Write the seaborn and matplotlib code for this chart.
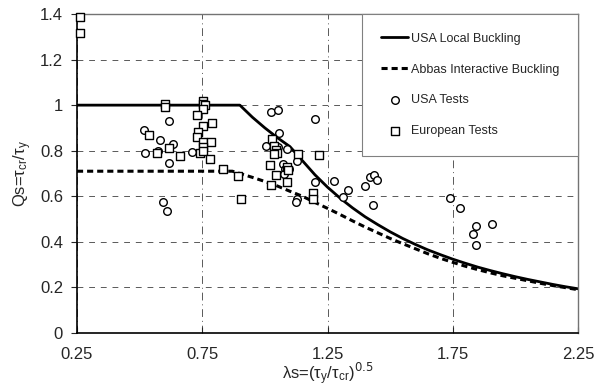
import numpy as np
import pandas as pd
import matplotlib
matplotlib.use("Agg")
import matplotlib.pyplot as plt
import seaborn as sns

# -------- data --------
usa_lam = [0.25, 0.90, 0.95, 1.00, 1.05, 1.10, 1.15, 1.20, 1.25, 1.30, 1.35, 1.40, 1.45,
           1.50, 1.55, 1.60, 1.65, 1.70, 1.75, 1.80, 1.85, 1.90, 1.95, 2.00, 2.05,
           2.10, 2.15, 2.20, 2.25]
usa_q = [1.00, 1.00, 0.947, 0.90, 0.857, 0.818, 0.756, 0.694, 0.64, 0.592, 0.549, 0.51, 0.476,
         0.444, 0.415, 0.389, 0.365, 0.344, 0.324, 0.306, 0.289, 0.274, 0.26, 0.247, 0.235,
         0.224, 0.213, 0.203, 0.194]

abbas_lam = [0.25, 0.87, 0.90, 0.95, 1.00, 1.05, 1.10, 1.15, 1.20, 1.25, 1.30, 1.35, 1.40,
             1.45, 1.50, 1.55, 1.60, 1.65, 1.70, 1.75, 1.80, 1.85, 1.90, 1.95, 2.00,
             2.05, 2.10, 2.15, 2.20, 2.25]
abbas_q = [0.71, 0.71, 0.70, 0.683, 0.665, 0.645, 0.622, 0.60, 0.573, 0.547, 0.52, 0.492, 0.465,
           0.44, 0.415, 0.392, 0.37, 0.348, 0.328, 0.31, 0.293, 0.278, 0.264, 0.251, 0.24,
           0.229, 0.218, 0.208, 0.199, 0.19]

usa_test_lam = [0.517, 0.58, 0.617, 0.632, 0.575, 0.52, 0.617, 0.708, 0.595, 0.608,
                1.023, 1.054, 1.20, 1.058, 1.003, 1.054, 1.09, 1.127, 1.071, 1.08,
                1.097, 1.076, 1.20, 1.276, 1.333, 1.313, 1.13, 1.125, 1.40, 1.42,
                1.436, 1.446, 1.43, 1.739, 1.779, 1.843, 1.832, 1.905, 1.843]
usa_test_q = [0.889, 0.846, 0.93, 0.829, 0.80, 0.788, 0.744, 0.795, 0.573, 0.535,
              0.969, 0.978, 0.939, 0.879, 0.82, 0.817, 0.807, 0.756, 0.741, 0.72,
              0.718, 0.697, 0.664, 0.667, 0.627, 0.595, 0.588, 0.576, 0.645, 0.686,
              0.694, 0.671, 0.561, 0.593, 0.547, 0.469, 0.434, 0.478, 0.386]

euro_test_lam = [0.262, 0.262, 0.601, 0.601, 0.754, 0.754, 0.76, 0.754, 0.728, 0.79,
                 0.754, 0.539, 0.734, 0.728, 0.752, 0.786, 0.616, 0.752, 0.57, 0.661,
                 0.741, 0.752, 0.781, 0.832, 0.894, 0.903,
                 1.027, 1.035, 1.045, 1.05, 1.038, 1.133, 1.217, 1.02, 1.087, 1.094,
                 1.043, 1.09, 1.023, 1.193, 1.193]
euro_test_q = [1.385, 1.315, 1.007, 0.99, 1.02, 1.005, 1.0, 0.985, 0.955, 0.92,
               0.91, 0.868, 0.88, 0.858, 0.84, 0.84, 0.81, 0.817, 0.788, 0.776,
               0.79, 0.80, 0.765, 0.72, 0.69, 0.59,
               0.851, 0.82, 0.805, 0.79, 0.785, 0.785, 0.78, 0.737, 0.73, 0.715,
               0.693, 0.664, 0.648, 0.613, 0.59]

x_ticks = [0.25, 0.75, 1.25, 1.75, 2.25]
x_labels = ["0.25", "0.75", "1.25", "1.75", "2.25"]
y_ticks = [0, 0.2, 0.4, 0.6, 0.8, 1.0, 1.2, 1.4]
y_labels = ["0", "0.2", "0.4", "0.6", "0.8", "1", "1.2", "1.4"]

# -------- style --------
sns.set_style("ticks")
plt.rcParams["font.family"] = ["Liberation Sans", "DejaVu Sans"]
plt.rcParams["mathtext.fontset"] = "dejavusans"

fig = plt.figure(figsize=(6.04, 3.88), dpi=100)
ax = fig.add_axes([0.1275, 0.1418, 0.8295, 0.8221])

sns.lineplot(x=usa_lam, y=usa_q, ax=ax, color="black", linewidth=2.0,
             sort=False, estimator=None, label="USA Local Buckling")
sns.lineplot(x=abbas_lam, y=abbas_q, ax=ax, color="black", linewidth=2.2,
             sort=False, estimator=None, label="Abbas Interactive Buckling")
ax.lines[-1].set_dashes((2.0, 1.3))

sns.scatterplot(x=usa_test_lam, y=usa_test_q, ax=ax, marker="o", s=30,
                facecolor="white", edgecolor="black", linewidth=1.0,
                label="USA Tests", zorder=3)
sns.scatterplot(x=euro_test_lam, y=euro_test_q, ax=ax, marker="s", s=26,
                facecolor="white", edgecolor="black", linewidth=1.0,
                label="European Tests", zorder=3, clip_on=False)

ax.set_xlim(0.25, 2.25)
ax.set_ylim(0, 1.4)
ax.set_xticks(x_ticks)
ax.set_xticklabels(x_labels, fontsize=12)
ax.set_yticks(y_ticks)
ax.set_yticklabels(y_labels, fontsize=12)
ax.tick_params(axis="x", direction="in", length=4, pad=10)
ax.tick_params(axis="y", direction="out", length=4, pad=6)

ax.grid(True, axis="y", color="0.35", linestyle=(0, (6, 6)), linewidth=0.7)
ax.grid(True, axis="x", color="0.35", linestyle=(0, (8, 4, 1, 4)), linewidth=0.7)

for side in ["left", "bottom"]:
    ax.spines[side].set_color("black")
    ax.spines[side].set_linewidth(1.2)
for side in ["top", "right"]:
    ax.spines[side].set_visible(True)
    ax.spines[side].set_color("0.45")
    ax.spines[side].set_linewidth(1.0)

ax.set_xlabel(r"$\mathregular{\lambda}$s=($\mathregular{\tau_y/\tau_{cr}}$)$^{0.5}$",
              fontsize=12, labelpad=-1)
ax.set_ylabel(r"Qs=$\mathregular{\tau_{cr}/\tau_y}$", fontsize=12, labelpad=4)

leg = ax.legend(loc="upper right", bbox_to_anchor=(1.0, 1.0), borderaxespad=0,
                fontsize=9, frameon=True, fancybox=False, labelspacing=1.5,
                handlelength=2.2, handletextpad=0.2, borderpad=1.5)
leg.get_frame().set_edgecolor("0.5")
leg.get_frame().set_linewidth(0.8)
leg.get_frame().set_alpha(1.0)

fig.savefig("out.png", dpi=100)
